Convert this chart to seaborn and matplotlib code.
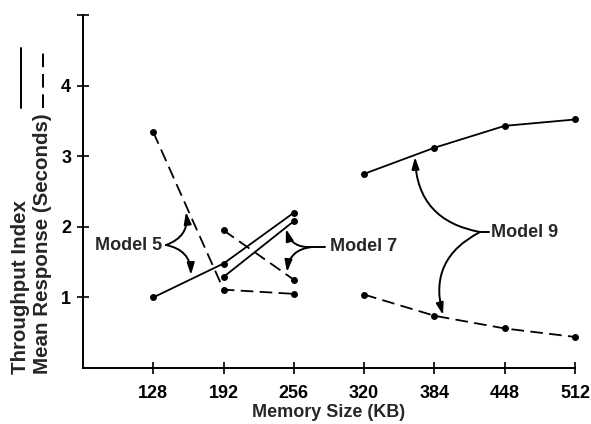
import numpy as np
import pandas as pd
import matplotlib
matplotlib.use("Agg")
import matplotlib.pyplot as plt
from matplotlib.lines import Line2D
import seaborn as sns

# ---------------------------------------------------------
# data
# ---------------------------------------------------------
memory_m5 = [128, 192, 256]
throughput_m5 = [1.00, 1.48, 2.20]
response_m5 = [3.34, 1.11, 1.05]

memory_m7 = [192, 256]
throughput_m7 = [1.29, 2.08]
response_m7 = [1.95, 1.25]

memory_m9 = [320, 384, 448, 512]
throughput_m9 = [2.75, 3.12, 3.43, 3.52]
response_m9 = [1.04, 0.74, 0.56, 0.44]

x_ticks = [128, 192, 256, 320, 384, 448, 512]
y_ticks = [1, 2, 3, 4, 5]
y_tick_labels = ["1", "2", "3", "4", ""]

rows = []
for model, mem, thr, resp in [("Model 5", memory_m5, throughput_m5, response_m5),
                              ("Model 7", memory_m7, throughput_m7, response_m7),
                              ("Model 9", memory_m9, throughput_m9, response_m9)]:
    for m, t, r in zip(mem, thr, resp):
        rows.append({"model": model, "metric": "Throughput", "memory": m, "value": t})
        rows.append({"model": model, "metric": "Response", "memory": m, "value": r})
df = pd.DataFrame(rows)

# ---------------------------------------------------------
# plot
# ---------------------------------------------------------
sns.set_style("ticks")
plt.rcParams["font.family"] = ["Liberation Sans", "DejaVu Sans"]
plt.rcParams["font.weight"] = "bold"

fig = plt.figure(figsize=(5.91, 4.24), dpi=100)
ax = fig.add_axes([83 / 591, 1 - 368 / 424, 492 / 591, 353 / 424])

sns.lineplot(
    data=df, x="memory", y="value",
    style="metric", units="model", estimator=None,
    markers={"Throughput": "o", "Response": "o"},
    dashes={"Throughput": "", "Response": (7, 3.5)},
    color="black", linewidth=1.3, markersize=5,
    markeredgewidth=0, legend=False, clip_on=False, ax=ax,
)

ax.set_xlim(64, 512)
ax.set_ylim(0, 5)
ax.set_xticks(x_ticks)
ax.set_yticks(y_ticks)
ax.set_yticklabels(y_tick_labels)
ax.tick_params(direction="inout", length=9, width=1.2, labelsize=13, colors="black")
ax.tick_params(axis="x", pad=8)
ax.tick_params(axis="y", pad=4)
for lab in ax.get_xticklabels() + ax.get_yticklabels():
    lab.set_fontweight("bold")

sns.despine(ax=ax)
for s in ["left", "bottom"]:
    ax.spines[s].set_linewidth(1.4)
    ax.spines[s].set_color("black")

ax.set_xlabel("Memory Size (KB)", fontsize=13, fontweight="bold", labelpad=1)
ax.set_ylabel("")

# two-line y label with line keys
fig.text(21 / 591, 1 - 374 / 424, "Throughput Index", rotation=90,
         ha="center", va="bottom", fontsize=14.8, fontweight="bold")
fig.text(43 / 591, 1 - 374 / 424, "Mean Response (Seconds)", rotation=90,
         ha="center", va="bottom", fontsize=14.8, fontweight="bold")
fig.add_artist(Line2D([21 / 591, 21 / 591], [1 - 108 / 424, 1 - 48 / 424],
                      color="black", lw=1.4, transform=fig.transFigure))
fig.add_artist(Line2D([43 / 591, 43 / 591], [1 - 108 / 424, 1 - 48 / 424],
                      color="black", lw=1.4, dashes=(7, 3.5), transform=fig.transFigure))

# ---------------------------------------------------------
# model annotations
# ---------------------------------------------------------
arrow = "-|>,head_length=0.7,head_width=0.22"


def curved(tip, base, rad):
    ax.annotate("", xy=tip, xytext=base,
                arrowprops=dict(arrowstyle=arrow, color="black", lw=1.4,
                                shrinkA=0, shrinkB=0,
                                connectionstyle=f"arc3,rad={rad}"))


# Model 5
curved((157.8, 2.21), (139.6, 1.742), 0.4)
curved((162.3, 1.317), (139.6, 1.742), -0.4)
ax.text(136, 1.742, "Model 5", ha="right", va="center", fontsize=13, fontweight="bold")

# Model 7
curved((248.8, 1.969), (272.5, 1.714), -0.4)
curved((249.8, 1.36), (272.5, 1.714), 0.4)
ax.plot([272.5, 284.4], [1.714, 1.714], color="black", lw=1.4)
ax.text(288.9, 1.714, "Model 7", ha="left", va="center", fontsize=13, fontweight="bold")

# Model 9
curved((366.3, 2.989), (425.5, 1.926), -0.4)
curved((391.8, 0.751), (425.5, 1.926), 0.4)
ax.plot([425.5, 433.5], [1.926, 1.926], color="black", lw=1.4)
ax.text(435.5, 1.926, "Model 9", ha="left", va="center", fontsize=13, fontweight="bold")

fig.savefig("out.png", dpi=100)
